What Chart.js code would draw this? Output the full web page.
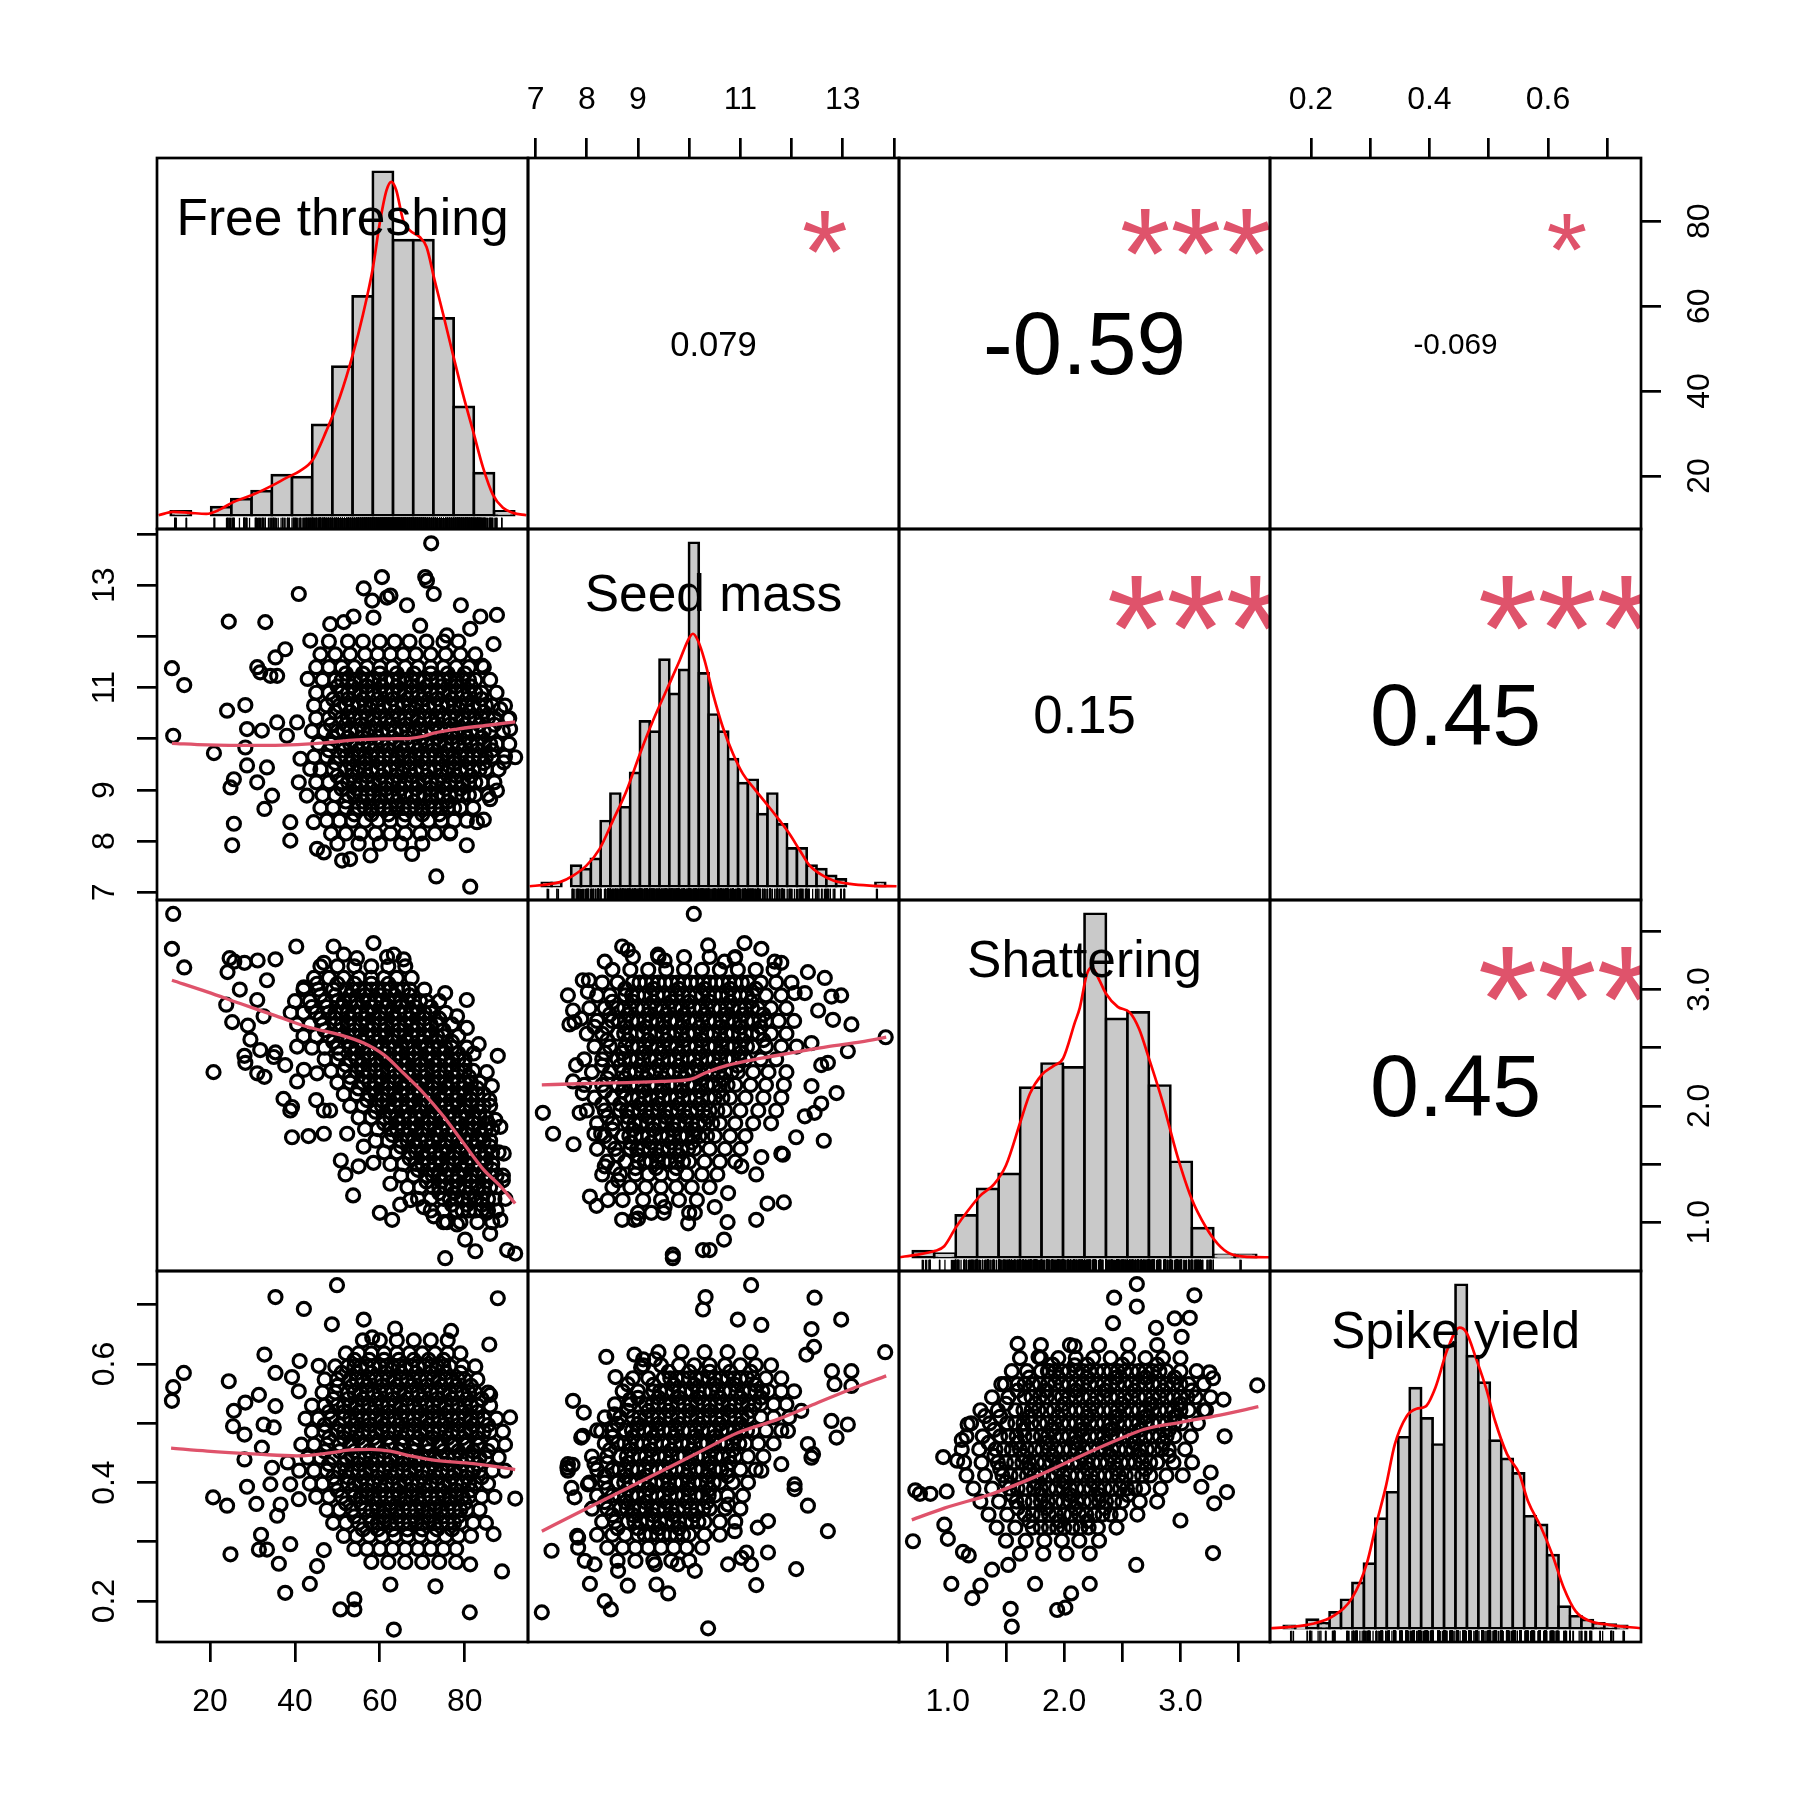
<!DOCTYPE html>
<html>
<head>
<meta charset="utf-8">
<script src="https://cdn.jsdelivr.net/npm/chart.js@4.4.0/dist/chart.umd.min.js"></script>
<style>
  body { margin: 0; background: #fff; }
  #wrap { position: relative; width: 1800px; height: 1800px; background: #fff; overflow: hidden; }
  #wrap canvas { position: absolute; }
</style>
</head>
<body>
<div id="wrap"></div>
<script>
// ---------- variables ----------
const varNames = ['Free threshing', 'Seed mass', 'Shattering', 'Spike yield'];
const axisMin = [7.48, 6.85, 0.58, 0.131];
const axisMax = [94.92, 14.1, 3.77, 0.757];

// outer axis ticks
const freeTicks = [20, 40, 60, 80];
const freeTickLabels = ['20', '40', '60', '80'];
const seedTicks = [7, 8, 9, 10, 11, 12, 13, 14];
const seedTickLabels = ['7', '8', '9', '', '11', '', '13', ''];
const shatTicks = [1.0, 1.5, 2.0, 2.5, 3.0, 3.5];
const shatTickLabels = ['1.0', '', '2.0', '', '3.0', ''];
const spikeTicks = [0.2, 0.3, 0.4, 0.5, 0.6, 0.7];
const spikeTickLabels = ['0.2', '', '0.4', '', '0.6', ''];

// ---------- histograms (bin left edges + bar heights) ----------
const freeBins = [10, 15, 20, 25, 30, 35, 40, 45, 50, 55, 60, 65, 70, 75, 80, 85, 90];
const freeBinWidth = 5;
const freeCounts = [2, 0, 4, 8, 12, 20, 19, 45, 74, 109, 171, 137, 137, 98, 54, 21, 2];

const seedBins = [7.0, 7.2, 7.4, 7.6, 7.8, 8.0, 8.2, 8.4, 8.6, 8.8, 9.0, 9.2, 9.4, 9.6, 9.8, 10.0, 10.2, 10.4, 10.6, 10.8, 11.0, 11.2, 11.4, 11.6, 11.8, 12.0, 12.2, 12.4, 12.6, 12.8, 13.0, 13.2, 13.4, 13.6, 13.8];
const seedBinWidth = 0.2;
const seedCounts = [1, 1, 0, 6, 5, 8, 19, 27, 23, 33, 48, 45, 66, 56, 63, 100, 62, 50, 45, 37, 30, 31, 21, 27, 18, 11, 11, 6, 5, 3, 2, 0, 0, 0, 1];

const shatBins = [0.6, 0.8, 1.0, 1.2, 1.4, 1.6, 1.8, 2.0, 2.2, 2.4, 2.6, 2.8, 3.0, 3.2, 3.4, 3.6];
const shatBinWidth = 0.2;
const shatCounts = [1.8, 1.1, 12.2, 19.9, 24.3, 49.4, 56.4, 55.3, 100, 69.4, 71.3, 50, 27.8, 8.5, 0.7, 0.7];

const spikeBins = [0.14, 0.16, 0.18, 0.20, 0.22, 0.24, 0.26, 0.28, 0.30, 0.32, 0.34, 0.36, 0.38, 0.40, 0.42, 0.44, 0.46, 0.48, 0.50, 0.52, 0.54, 0.56, 0.58, 0.60, 0.62, 0.64, 0.66, 0.68, 0.70, 0.72];
const spikeBinWidth = 0.02;
const spikeCounts = [0.7, 0.4, 2.5, 1.4, 4.6, 8.3, 13.2, 18.8, 31.9, 39.6, 55.6, 69.9, 61.1, 53.5, 82.2, 100, 79.2, 71.5, 54.6, 49.3, 45.1, 32.6, 30.1, 21.3, 6.3, 3.5, 2.4, 1.4, 1.1, 0.7];

// density curves
const freeDensX = [7.0, 10.6, 14.7, 18.8, 22.1, 25.4, 30.4, 35.3, 38.6, 41.9, 45.2, 48.5, 51.8, 55.1, 57.6, 60.05, 61.7, 63.4, 64.6, 65.8, 67.5, 69.1, 71.6, 73.3, 75.3, 77.4, 79.8, 82.3, 84.8, 87.3, 89.7, 92.2, 94.7, 98.0];
const freeDensY = [0, 1.7, 1.2, 0.7, 2.8, 6.5, 10.3, 15.0, 18.6, 22.0, 27.8, 42.0, 58.6, 80.3, 100.2, 123.5, 145.2, 161.8, 166.0, 161.8, 146.9, 141.9, 138.5, 133.5, 116.9, 100.2, 80.3, 60.3, 42.0, 23.6, 10.3, 3.7, 1.2, 0];
const seedDensX = [6.755, 7.09, 7.37, 7.64, 7.91, 8.18, 8.45, 8.73, 9.0, 9.27, 9.54, 9.81, 9.98, 10.08, 10.18, 10.32, 10.49, 10.69, 10.9, 11.1, 11.31, 11.58, 11.85, 12.05, 12.26, 12.46, 12.67, 12.94, 13.28, 13.68, 14.23];
const seedDensY = [0, 0.5, 1.2, 3.1, 6.0, 10.9, 19.1, 27.9, 38.5, 48.3, 57.0, 65.7, 71.6, 73.5, 71.6, 65.7, 56.0, 46.3, 38.5, 32.7, 28.8, 24.0, 19.1, 15.2, 10.4, 6.0, 3.6, 1.7, 0.7, 0.2, 0];
const shatDensX = [0.472, 0.627, 0.804, 0.893, 1.004, 1.115, 1.225, 1.358, 1.469, 1.602, 1.691, 1.801, 1.912, 2.001, 2.112, 2.156, 2.222, 2.267, 2.333, 2.399, 2.51, 2.621, 2.71, 2.798, 2.931, 3.064, 3.197, 3.33, 3.441, 3.552, 3.729, 3.928];
const shatDensY = [0, 0.7, 1.8, 3.2, 8.8, 13.6, 17.8, 21.3, 26.8, 39.3, 47.6, 53.1, 55.7, 57.9, 68.5, 72.6, 82.4, 84.4, 81.0, 76.8, 72.9, 71.3, 66.4, 58.1, 44.9, 29.6, 17.1, 8.8, 3.9, 1.1, 0.1, 0];
const spikeDensX = [0.116, 0.152, 0.193, 0.226, 0.26, 0.285, 0.301, 0.318, 0.334, 0.355, 0.372, 0.388, 0.405, 0.426, 0.447, 0.459, 0.476, 0.493, 0.509, 0.53, 0.551, 0.567, 0.588, 0.609, 0.629, 0.65, 0.675, 0.708, 0.764];
const spikeDensY = [0, 0.4, 1.4, 3.5, 9.0, 18.8, 29.9, 41.0, 53.5, 61.8, 63.9, 64.6, 70.1, 81.2, 87.5, 86.1, 78.5, 70.1, 60.4, 50.7, 45.1, 36.8, 29.9, 21.5, 11.8, 4.9, 2.1, 1.0, 0];

// ---------- correlations ----------
const corrCells = [[0, 1], [0, 2], [0, 3], [1, 2], [1, 3], [2, 3]];
const corrValues = [0.079, -0.59, -0.069, 0.15, 0.45, 0.45];
const corrLabels = ['0.079', '-0.59', '-0.069', '0.15', '0.45', '0.45'];
const corrStars = ['*', '***', '*', '***', '***', '***'];

// ---------- smooth lines ----------
const freeSeedSmoothX = [11.0, 19.3, 31.1, 38.9, 46.8, 54.6, 62.5, 67.2, 70.3, 72.7, 78.2, 86.0, 91.9];
const freeSeedSmoothY = [9.91, 9.88, 9.87, 9.88, 9.92, 9.98, 10.0, 10.01, 10.05, 10.11, 10.19, 10.27, 10.33];
const freeShatSmoothX = [11.0, 19.3, 27.1, 35.0, 42.8, 50.7, 56.2, 60.9, 65.6, 70.3, 75.0, 79.7, 84.5, 88.4, 91.9];
const freeShatSmoothY = [3.08, 2.98, 2.88, 2.78, 2.68, 2.61, 2.54, 2.44, 2.28, 2.11, 1.91, 1.68, 1.45, 1.31, 1.16];
const seedShatSmoothX = [7.12, 7.83, 8.8, 9.46, 10.04, 10.3, 10.76, 11.41, 12.06, 12.71, 13.36, 13.85];
const seedShatSmoothY = [2.18, 2.19, 2.2, 2.21, 2.23, 2.28, 2.35, 2.41, 2.46, 2.51, 2.55, 2.59];
const freeSpikeSmoothX = [10.8, 19.3, 31.1, 40.5, 48.3, 53.0, 57.8, 62.5, 67.2, 72.7, 82.1, 91.9];
const freeSpikeSmoothY = [0.458, 0.453, 0.448, 0.445, 0.45, 0.455, 0.456, 0.453, 0.445, 0.438, 0.432, 0.422];
const seedSpikeSmoothX = [7.12, 7.83, 8.8, 9.59, 10.3, 10.95, 11.74, 12.52, 13.23, 13.85];
const seedSpikeSmoothY = [0.318, 0.349, 0.391, 0.425, 0.456, 0.484, 0.507, 0.535, 0.56, 0.58];
const shatSpikeSmoothX = [0.69, 0.97, 1.38, 1.79, 2.2, 2.48, 2.69, 3.01, 3.34, 3.67];
const shatSpikeSmoothY = [0.337, 0.357, 0.381, 0.413, 0.45, 0.474, 0.49, 0.502, 0.514, 0.528];

// ---------- scatter points: single points [x, y] and dense rows [y, x1, x2, ...] ----------
const seedVsFree = [[72.1,13.82],[60.5,13.16],[70.7,13.16],[71.1,13.09],[40.9,12.83],[56.2,12.94],[24.4,12.29],[33.0,12.28],[58.5,12.37],[62.5,12.8],[66.4,12.61],[79.1,12.61],[83.7,12.39],[87.6,12.42],[11.0,11.38],[13.9,11.05],[11.3,10.06],[20.9,9.72],[24.0,10.55],[28.3,10.66],[31.8,11.3],[35.8,11.23],[35.4,11.59],[37.7,11.75],[43.0,11.17],[43.6,11.92],[25.6,9.21],[24.8,9.05],[28.7,9.48],[31.1,9.15],[34.6,8.89],[32.8,8.63],[25.6,8.34],[25.2,7.92],[38.9,8.01],[38.9,8.37],[46.8,7.78],[51.1,7.62],[57.8,7.72],[67.6,7.75],[73.3,7.31],[81.3,7.11],[80.5,7.92],[84.5,8.42],[87.6,8.99],[91.9,9.64],[90.3,10.39],[86.8,11.85],[84.1,11.43],[28.7,10.19],[32.2,10.16],[28.3,9.83],[33.4,9.44],[35.8,10.32],[40.5,10.32],[38.1,10.06],[41.3,9.61],[40.9,9.15],[48.3,12.24],[51.5,12.28],[53.8,12.39],[58.2,12.7],[61.7,12.76],[72.7,12.83],[69.5,12.21],[75.8,12.02],[81.3,12.15],[88.4,10.58],[90.7,10.19],[89.2,9.54],[86.0,8.82],[82.9,8.37],[76.6,8.17],[45.2,7.85],[53.0,7.65],[44.4,8.37],[42.8,8.89],[43.6,9.41],[31.1,11.4],[34.2,11.23]];
const seedVsFreeRows = [
  [11.9, 48, 52.5, 56, 60, 63.5, 67, 71, 75, 78.5],
  [11.65, 46, 49.5, 53, 56.5, 59.5, 62.5, 65.5, 68.5, 72, 75.5, 79, 82.5],
  [11.4, 45, 48, 51, 54, 57, 60, 63, 66, 69, 72, 75, 78, 81, 84.5],
  [11.15, 46.5, 49.5, 52.5, 55.5, 58.5, 61.5, 64.5, 67.5, 70.5, 73.5, 76.5, 79.5, 82.5, 86],
  [10.9, 45, 48, 51, 54, 57, 60, 63, 66, 69, 72, 75, 78, 81, 84, 87.5],
  [10.65, 44.5, 47.5, 50.5, 53.5, 56.5, 59.5, 62.5, 65.5, 68.5, 71.5, 74.5, 77.5, 80.5, 83.5, 86.5, 89.5],
  [10.4, 45, 48, 51, 54, 57, 60, 63, 66, 69, 72, 75, 78, 81, 84, 87, 90.5],
  [10.15, 44, 47, 50, 53, 56, 59, 62, 65, 68, 71, 74, 77, 80, 83, 86, 89],
  [9.9, 45.5, 48.5, 51.5, 54.5, 57.5, 60.5, 63.5, 66.5, 69.5, 72.5, 75.5, 78.5, 81.5, 84.5, 87.5, 90.5],
  [9.65, 44.5, 47.5, 50.5, 53.5, 56.5, 59.5, 62.5, 65.5, 68.5, 71.5, 74.5, 77.5, 80.5, 83.5, 86.5, 89.5],
  [9.4, 46, 49, 52, 55, 58, 61, 64, 67, 70, 73, 76, 79, 82, 85, 88],
  [9.15, 45, 48, 51, 54, 57, 60, 63, 66, 69, 72, 75, 78, 81, 84, 87],
  [8.9, 46.5, 49.5, 52.5, 55.5, 58.5, 61.5, 64.5, 67.5, 70.5, 73.5, 76.5, 79.5, 82.5, 85.5],
  [8.65, 46, 49, 52, 55, 58, 61, 64, 67, 70, 73, 76, 79, 82],
  [8.4, 47.5, 50.5, 53.5, 56.5, 59.5, 62.5, 65.5, 68.5, 71.5, 74.5, 77.5, 80.5],
  [8.15, 48.5, 52, 55.5, 59, 62.5, 66, 69.5, 73, 76.5],
  [7.95, 50, 55, 60, 65, 70]
];
const seedVsFreeFill = [
  [11.275, 52, 56, 60, 64, 68, 72, 76, 80],
  [11.025, 50, 53.5, 57, 60.5, 64, 67.5, 71, 74.5, 78, 81.5],
  [10.775, 49, 52.5, 56, 59.5, 63, 66.5, 70, 73.5, 77, 80.5, 84],
  [10.525, 49.5, 53, 56.5, 60, 63.5, 67, 70.5, 74, 77.5, 81, 84.5],
  [10.275, 48.5, 52, 55.5, 59, 62.5, 66, 69.5, 73, 76.5, 80, 83.5, 87],
  [10.025, 49, 52.5, 56, 59.5, 63, 66.5, 70, 73.5, 77, 80.5, 84],
  [9.775, 48, 51.5, 55, 58.5, 62, 65.5, 69, 72.5, 76, 79.5, 83, 86.5],
  [9.525, 49.5, 53, 56.5, 60, 63.5, 67, 70.5, 74, 77.5, 81, 84.5],
  [9.275, 50, 53.5, 57, 60.5, 64, 67.5, 71, 74.5, 78, 81.5],
  [9.025, 51, 54.5, 58, 61.5, 65, 68.5, 72, 75.5, 79],
  [8.775, 52, 56, 60, 64, 68, 72, 76],
  [8.525, 54, 58, 62, 66, 70, 74]
];
const seedVsFreeFill2 = [
  [11.15, 51, 54, 57, 60, 63, 66, 69, 72, 75, 78, 81],
  [10.9, 52.5, 55.5, 58.5, 61.5, 64.5, 67.5, 70.5, 73.5, 76.5, 79.5, 82.5],
  [10.65, 52, 55, 58, 61, 64, 67, 70, 73, 76, 79, 82, 85],
  [10.4, 52.5, 55.5, 58.5, 61.5, 64.5, 67.5, 70.5, 73.5, 76.5, 79.5, 82.5, 85.5],
  [10.15, 51.5, 54.5, 57.5, 60.5, 63.5, 66.5, 69.5, 72.5, 75.5, 78.5, 81.5, 84.5],
  [9.9, 53, 56, 59, 62, 65, 68, 71, 74, 77, 80, 83, 86],
  [9.65, 52, 55, 58, 61, 64, 67, 70, 73, 76, 79, 82, 85],
  [9.4, 53.5, 56.5, 59.5, 62.5, 65.5, 68.5, 71.5, 74.5, 77.5, 80.5, 83.5],
  [9.15, 52.5, 55.5, 58.5, 61.5, 64.5, 67.5, 70.5, 73.5, 76.5, 79.5, 82.5],
  [8.9, 54, 57, 60, 63, 66, 69, 72, 75, 78, 81],
  [8.65, 56.5, 59.5, 62.5, 65.5, 68.5, 71.5, 74.5, 77.5]
];

const shatVsFree = [[11.3,3.65],[11.0,3.35],[13.9,3.19],[20.8,2.29],[24.6,3.27],[25.7,3.24],[28.1,3.23],[31.2,3.25],[35.4,3.26],[40.3,3.37],[49.1,3.37],[58.5,3.4],[24.1,3.15],[23.8,2.87],[25.2,2.72],[27.0,3.0],[28.9,2.69],[28.1,2.43],[28.3,2.37],[31.1,2.28],[32.8,2.25],[35.4,2.46],[37.7,2.35],[37.3,2.06],[39.3,1.99],[38.9,1.96],[39.3,1.73],[43.2,1.74],[45.0,2.05],[46.8,1.76],[48.3,1.96],[50.8,1.53],[51.9,1.41],[55.0,1.48],[53.7,1.23],[60.0,1.08],[62.9,1.02],[64.8,1.15],[75.4,0.69],[80.1,0.85],[82.5,0.75],[90.0,0.76],[91.9,0.73],[85.2,2.29],[87.8,2.43],[83.3,2.53],[80.5,2.67],[75.4,2.97],[65.6,3.26],[63.3,3.3],[85.8,2.05],[87.2,1.88],[89.0,1.36],[89.6,1.2],[75.8,1.0],[78.2,0.98],[45.2,3.05],[46.8,3.23],[51.5,3.3],[54.6,3.27],[61.7,3.28],[42.1,3.02],[33.4,3.08],[31.1,2.91],[32.6,2.77],[29.5,2.57],[31.8,2.48],[35.0,2.42],[40.5,2.51],[42.1,2.31],[40.5,2.21],[45.2,2.28],[46.8,1.96],[52.3,1.76],[56.2,1.65],[58.5,1.51],[62.5,1.33],[67.2,1.19],[70.3,1.13],[72.7,1.05],[85.2,1.08],[88.4,1.02],[86.0,0.9],[80.5,2.91],[78.2,2.77],[82.1,2.45],[86.4,2.17],[88.4,1.82],[89.2,1.59]];
const shatVsFreeRows = [
  [3.2, 46, 50, 54, 58, 62, 66],
  [3.1, 44.5, 48, 51.5, 55, 58, 61, 64, 67.5],
  [3.0, 42, 45.5, 49, 52, 55, 58, 61, 64, 67, 70.5],
  [2.9, 40, 43.5, 47, 50, 53, 56, 59, 62, 65, 68, 71, 74],
  [2.8, 39, 42, 45, 48, 51, 54, 57, 60, 63, 66, 69, 72, 75.5],
  [2.7, 40.5, 43.5, 46.5, 49.5, 52.5, 55.5, 58.5, 61.5, 64.5, 67.5, 70.5, 73.5, 77],
  [2.6, 42, 45, 48, 51, 54, 57, 60, 63, 66, 69, 72, 75, 78.5],
  [2.5, 44, 47, 50, 53, 56, 59, 62, 65, 68, 71, 74, 77, 80.5],
  [2.4, 47, 50, 53, 56, 59, 62, 65, 68, 71, 74, 77, 80],
  [2.3, 48.5, 51.5, 54.5, 57.5, 60.5, 63.5, 66.5, 69.5, 72.5, 75.5, 78.5, 82],
  [2.2, 50, 53, 56, 59, 62, 65, 68, 71, 74, 77, 80, 83.5],
  [2.1, 51.5, 54.5, 57.5, 60.5, 63.5, 66.5, 69.5, 72.5, 75.5, 78.5, 81.5, 84.5],
  [2.0, 53, 56, 59, 62, 65, 68, 71, 74, 77, 80, 83, 86],
  [1.9, 55, 58, 61, 64, 67, 70, 73, 76, 79, 82, 85],
  [1.8, 56.5, 59.5, 62.5, 65.5, 68.5, 71.5, 74.5, 77.5, 80.5, 83.5, 86.5],
  [1.7, 59, 62, 65, 68, 71, 74, 77, 80, 83, 86],
  [1.6, 61, 64, 67, 70, 73, 76, 79, 82, 85, 88],
  [1.5, 62.5, 65.5, 68.5, 71.5, 74.5, 77.5, 80.5, 83.5, 86.5],
  [1.4, 65, 68, 71, 74, 77, 80, 83, 86, 89],
  [1.3, 66.5, 69.5, 72.5, 75.5, 78.5, 81.5, 84.5, 87.5],
  [1.2, 69, 72, 75, 78, 81, 84, 87],
  [1.1, 72, 75, 78, 81, 84, 87.5],
  [1.0, 75, 79, 83, 86.5]
];
const shatVsFreeFill = [
  [3.05, 50, 54, 58, 62],
  [2.95, 46, 49.5, 53, 56.5, 60, 63.5, 67],
  [2.85, 44, 47.5, 51, 54.5, 58, 61.5, 65, 68.5, 72],
  [2.75, 46, 49.5, 53, 56.5, 60, 63.5, 67, 70.5, 74],
  [2.65, 47, 50.5, 54, 57.5, 61, 64.5, 68, 71.5, 75],
  [2.55, 49, 52.5, 56, 59.5, 63, 66.5, 70, 73.5, 77],
  [2.45, 50.5, 54, 57.5, 61, 64.5, 68, 71.5, 75, 78.5],
  [2.35, 52, 55.5, 59, 62.5, 66, 69.5, 73, 76.5, 80],
  [2.25, 53, 56.5, 60, 63.5, 67, 70.5, 74, 77.5, 81],
  [2.15, 55, 58.5, 62, 65.5, 69, 72.5, 76, 79.5, 83],
  [2.05, 57, 60.5, 64, 67.5, 71, 74.5, 78, 81.5],
  [1.95, 59, 62.5, 66, 69.5, 73, 76.5, 80, 83.5],
  [1.85, 61, 64.5, 68, 71.5, 75, 78.5, 82, 85.5],
  [1.75, 63, 66.5, 70, 73.5, 77, 80.5, 84],
  [1.65, 65, 68.5, 72, 75.5, 79, 82.5, 86],
  [1.55, 67, 70.5, 74, 77.5, 81, 84.5],
  [1.45, 69, 72.5, 76, 79.5, 83, 86.5],
  [1.35, 71, 74.5, 78, 81.5, 85],
  [1.25, 74, 77.5, 81, 84.5],
  [1.15, 77, 80.5, 84]
];
const shatVsFreeFill2 = [
  [3.0, 53.5, 56.5, 59.5, 62.5, 65.5],
  [2.9, 51.5, 54.5, 57.5, 60.5, 63.5, 66.5, 69.5],
  [2.8, 49.5, 52.5, 55.5, 58.5, 61.5, 64.5, 67.5, 70.5],
  [2.7, 51, 54, 57, 60, 63, 66, 69, 72],
  [2.6, 52.5, 55.5, 58.5, 61.5, 64.5, 67.5, 70.5, 73.5],
  [2.5, 54.5, 57.5, 60.5, 63.5, 66.5, 69.5, 72.5, 75.5],
  [2.4, 54.5, 57.5, 60.5, 63.5, 66.5, 69.5, 72.5, 75.5, 78.5],
  [2.3, 56, 59, 62, 65, 68, 71, 74, 77, 80],
  [2.2, 57.5, 60.5, 63.5, 66.5, 69.5, 72.5, 75.5, 78.5, 81.5],
  [2.1, 59, 62, 65, 68, 71, 74, 77, 80, 83],
  [2.0, 60.5, 63.5, 66.5, 69.5, 72.5, 75.5, 78.5, 81.5, 84.5],
  [1.9, 62.5, 65.5, 68.5, 71.5, 74.5, 77.5, 80.5, 83.5],
  [1.8, 64, 67, 70, 73, 76, 79, 82, 85],
  [1.7, 66.5, 69.5, 72.5, 75.5, 78.5, 81.5, 84.5],
  [1.6, 68.5, 71.5, 74.5, 77.5, 80.5, 83.5, 86.5],
  [1.5, 70, 73, 76, 79, 82, 85],
  [1.4, 72.5, 75.5, 78.5, 81.5, 84.5, 87.5],
  [1.3, 74, 77, 80, 83, 86],
  [1.2, 76.5, 79.5, 82.5, 85.5],
  [1.1, 79.5, 82.5, 85.5]
];

const shatVsSeed = [[10.09,3.65],[8.69,3.37],[8.35,3.24],[10.37,3.38],[11.08,3.4],[11.41,3.35],[12.32,3.15],[12.65,3.1],[8.04,3.08],[7.63,2.95],[7.73,2.82],[7.66,2.7],[12.78,2.94],[12.97,2.95],[12.81,2.74],[13.17,2.7],[13.84,2.59],[13.1,2.47],[12.71,2.37],[12.88,2.11],[12.58,2.02],[12.63,1.7],[12.09,1.73],[7.14,1.94],[7.34,1.76],[7.74,1.67],[7.79,2.35],[8.06,1.22],[8.19,1.14],[11.31,1.02],[11.53,1.16],[11.85,1.17],[10.75,1.0],[10.68,0.85],[10.27,0.76],[10.4,0.76],[9.68,0.72],[9.68,0.69],[11.31,1.41],[11.83,1.58],[8.69,1.02],[9.0,1.03],[7.86,1.94],[8.15,1.76],[8.8,3.34],[9.39,3.3],[9.52,3.25],[10.69,3.24],[10.89,3.27],[11.67,3.24],[11.8,3.23],[7.92,3.08],[8.02,2.98],[7.89,2.75],[7.76,2.72],[8.15,2.68],[7.73,2.21],[7.92,2.11],[8.28,1.76],[8.35,1.48],[8.61,1.36],[8.41,1.19],[8.93,1.02],[9.26,1.08],[9.52,1.13],[9.98,0.99],[10.11,1.08],[10.5,1.13],[10.76,1.25],[11.02,1.48],[11.41,1.56],[11.8,1.59],[12.26,1.91],[12.45,1.94],[12.39,2.17],[12.58,2.35],[12.39,2.54],[12.52,2.82],[12.26,2.97],[12.06,2.97]];
const shatVsSeedRows = [
  [3.28, 8.9, 9.4, 9.9, 10.4, 10.9],
  [3.17, 8.5, 8.85, 9.2, 9.55, 9.9, 10.25, 10.6, 10.95, 11.3, 11.65],
  [3.06, 8.3, 8.6, 8.9, 9.15, 9.4, 9.65, 9.9, 10.15, 10.4, 10.65, 10.9, 11.15, 11.4, 11.7, 12.0],
  [2.95, 8.2, 8.45, 8.75, 9.0, 9.25, 9.5, 9.75, 10.0, 10.25, 10.5, 10.75, 11.0, 11.25, 11.5, 11.8],
  [2.84, 8.05, 8.35, 8.6, 8.85, 9.1, 9.35, 9.6, 9.85, 10.1, 10.35, 10.6, 10.85, 11.1, 11.35, 11.6, 11.9],
  [2.73, 8.2, 8.5, 8.75, 9.0, 9.25, 9.5, 9.75, 10.0, 10.25, 10.5, 10.75, 11.0, 11.25, 11.5, 11.75, 12.05],
  [2.62, 8.0, 8.3, 8.6, 8.85, 9.1, 9.35, 9.6, 9.85, 10.1, 10.35, 10.6, 10.85, 11.1, 11.35, 11.6, 11.9],
  [2.51, 8.15, 8.45, 8.75, 9.0, 9.25, 9.5, 9.75, 10.0, 10.25, 10.5, 10.75, 11.0, 11.25, 11.5, 11.8, 12.1],
  [2.40, 7.95, 8.3, 8.6, 8.85, 9.1, 9.35, 9.6, 9.85, 10.1, 10.35, 10.6, 10.85, 11.1, 11.4, 11.7],
  [2.29, 8.1, 8.45, 8.7, 8.95, 9.2, 9.45, 9.7, 9.95, 10.2, 10.45, 10.7, 10.95, 11.25, 11.55, 11.9],
  [2.18, 7.95, 8.3, 8.6, 8.85, 9.1, 9.35, 9.6, 9.85, 10.1, 10.35, 10.6, 10.9, 11.2, 11.5, 11.85],
  [2.07, 8.15, 8.5, 8.75, 9.0, 9.25, 9.5, 9.75, 10.0, 10.25, 10.5, 10.8, 11.1, 11.45, 11.8],
  [1.96, 8.0, 8.35, 8.65, 8.9, 9.15, 9.4, 9.65, 9.9, 10.15, 10.4, 10.7, 11.0, 11.35, 11.7],
  [1.85, 8.2, 8.5, 8.8, 9.05, 9.3, 9.55, 9.8, 10.05, 10.3, 10.6, 10.9, 11.25, 11.6],
  [1.74, 8.35, 8.7, 8.95, 9.2, 9.45, 9.7, 9.95, 10.2, 10.5, 10.8, 11.1],
  [1.63, 8.2, 8.55, 8.85, 9.1, 9.35, 9.6, 9.85, 10.1, 10.4, 10.7, 11.0],
  [1.52, 8.4, 8.75, 9.0, 9.25, 9.5, 9.75, 10.0, 10.3, 10.6, 10.9],
  [1.41, 8.3, 8.65, 8.95, 9.2, 9.45, 9.7, 9.95, 10.25, 10.55],
  [1.30, 8.5, 8.85, 9.15, 9.45, 9.75, 10.05, 10.4],
  [1.19, 8.7, 9.1, 9.45, 9.8, 10.15],
  [1.08, 9.0, 9.5, 10.0]
];
const shatVsSeedFill = [
  [3.005, 8.75, 9.3, 9.8, 10.3, 10.8, 11.3],
  [2.895, 8.5, 8.9, 9.3, 9.65, 10.0, 10.4, 10.8, 11.2],
  [2.785, 8.45, 8.8, 9.2, 9.55, 9.9, 10.3, 10.7, 11.05, 11.45],
  [2.675, 8.4, 8.75, 9.15, 9.5, 9.85, 10.2, 10.6, 11.0, 11.4],
  [2.565, 8.4, 8.8, 9.2, 9.55, 9.9, 10.25, 10.65, 11.05, 11.45],
  [2.455, 8.35, 8.7, 9.1, 9.45, 9.8, 10.2, 10.6, 11.0],
  [2.345, 8.3, 8.65, 9.05, 9.4, 9.8, 10.15, 10.55, 10.95],
  [2.235, 8.4, 8.75, 9.15, 9.5, 9.9, 10.25, 10.65],
  [2.125, 8.35, 8.7, 9.1, 9.45, 9.85, 10.2, 10.6],
  [2.015, 8.3, 8.65, 9.05, 9.4, 9.8, 10.2],
  [1.905, 8.4, 8.8, 9.2, 9.55, 9.95, 10.35],
  [1.795, 8.5, 8.9, 9.3, 9.7, 10.1],
  [1.685, 8.45, 8.85, 9.25, 9.65, 10.05],
  [1.575, 8.6, 9.0, 9.4, 9.8],
  [1.465, 8.55, 8.95, 9.35, 9.75]
];
const shatVsSeedFill2 = [
  [3.06, 9.03, 9.28, 9.53, 9.78, 10.03, 10.28, 10.53, 10.78, 11.03],
  [2.95, 8.88, 9.13, 9.38, 9.63, 9.88, 10.13, 10.38, 10.63, 10.88, 11.13],
  [2.84, 8.73, 8.98, 9.23, 9.48, 9.73, 9.98, 10.23, 10.48, 10.73, 10.98, 11.23],
  [2.73, 8.63, 8.88, 9.13, 9.38, 9.63, 9.88, 10.13, 10.38, 10.63, 10.88, 11.13, 11.38],
  [2.62, 8.73, 8.98, 9.23, 9.48, 9.73, 9.98, 10.23, 10.48, 10.73, 10.98, 11.23],
  [2.51, 8.88, 9.13, 9.38, 9.63, 9.88, 10.13, 10.38, 10.63, 10.88, 11.13],
  [2.40, 8.73, 8.98, 9.23, 9.48, 9.73, 9.98, 10.23, 10.48, 10.73, 10.98],
  [2.29, 8.83, 9.08, 9.33, 9.58, 9.83, 10.08, 10.33, 10.58, 10.83],
  [2.18, 8.73, 8.98, 9.23, 9.48, 9.73, 9.98, 10.23, 10.48, 10.75],
  [2.07, 8.88, 9.13, 9.38, 9.63, 9.88, 10.13, 10.38, 10.65],
  [1.96, 8.78, 9.03, 9.28, 9.53, 9.78, 10.03, 10.28, 10.55],
  [1.85, 8.93, 9.18, 9.43, 9.68, 9.93, 10.18, 10.45],
  [1.74, 8.83, 9.08, 9.33, 9.58, 9.83, 10.08, 10.35],
  [1.63, 8.98, 9.23, 9.48, 9.73, 9.98],
  [1.52, 9.13, 9.38, 9.63, 9.88]
];

const spikeVsFree = [[49.9,0.733],[35.4,0.713],[42.1,0.693],[48.7,0.667],[56.2,0.675],[87.8,0.711],[76.8,0.656],[85.8,0.633],[63.6,0.66],[58.2,0.645],[32.8,0.616],[41.1,0.605],[45.6,0.597],[13.8,0.585],[11.3,0.561],[11.0,0.538],[24.4,0.571],[35.4,0.585],[39.3,0.578],[40.9,0.554],[35.4,0.529],[28.3,0.535],[25.6,0.521],[25.4,0.495],[28.1,0.481],[31.5,0.548],[32.6,0.498],[35.0,0.493],[32.2,0.459],[28.1,0.439],[34.6,0.425],[38.3,0.434],[28.7,0.393],[34.2,0.397],[20.7,0.375],[24.0,0.361],[30.9,0.364],[36.6,0.363],[38.9,0.397],[35.8,0.344],[40.9,0.372],[32.0,0.312],[31.5,0.287],[33.4,0.287],[24.8,0.279],[36.2,0.263],[38.9,0.296],[43.5,0.229],[37.7,0.214],[50.7,0.186],[54.0,0.203],[54.0,0.186],[63.3,0.152],[45.2,0.259],[46.8,0.286],[88.8,0.25],[81.2,0.181],[73.1,0.225],[91.9,0.373],[90.7,0.51],[86.0,0.548],[86.8,0.313],[81.3,0.262],[62.5,0.228]];
const spikeVsFreeRows = [
  [0.640, 56, 60, 64, 68, 72, 76],
  [0.618, 52, 55, 58, 61, 64, 67, 70, 73, 76, 79],
  [0.596, 49.5, 52.5, 55.5, 58.5, 61.5, 64.5, 67.5, 70.5, 73.5, 76.5, 79.5, 82.5],
  [0.574, 47, 50, 53, 56, 59, 62, 65, 68, 71, 74, 77, 80, 83],
  [0.552, 46.5, 49.5, 52.5, 55.5, 58.5, 61.5, 64.5, 67.5, 70.5, 73.5, 76.5, 79.5, 82.5, 85.5],
  [0.530, 44, 47, 50, 53, 56, 59, 62, 65, 68, 71, 74, 77, 80, 83, 86],
  [0.508, 42.5, 45.5, 48.5, 51.5, 54.5, 57.5, 60.5, 63.5, 66.5, 69.5, 72.5, 75.5, 78.5, 81.5, 84.5, 87.5],
  [0.486, 44, 47, 50, 53, 56, 59, 62, 65, 68, 71, 74, 77, 80, 83, 86, 89],
  [0.464, 41.5, 44.5, 47.5, 50.5, 53.5, 56.5, 59.5, 62.5, 65.5, 68.5, 71.5, 74.5, 77.5, 80.5, 83.5, 86.5, 89.5],
  [0.442, 43, 46, 49, 52, 55, 58, 61, 64, 67, 70, 73, 76, 79, 82, 85, 88],
  [0.420, 41, 44.5, 47.5, 50.5, 53.5, 56.5, 59.5, 62.5, 65.5, 68.5, 71.5, 74.5, 77.5, 80.5, 83.5, 86.5, 89.5],
  [0.398, 43.5, 46.5, 49.5, 52.5, 55.5, 58.5, 61.5, 64.5, 67.5, 70.5, 73.5, 76.5, 79.5, 82.5, 85.5],
  [0.376, 45, 48, 51, 54, 57, 60, 63, 66, 69, 72, 75, 78, 81, 84, 87],
  [0.354, 47.5, 50.5, 53.5, 56.5, 59.5, 62.5, 65.5, 68.5, 71.5, 74.5, 77.5, 80.5, 83.5],
  [0.332, 49, 52, 55, 58, 61, 64, 67, 70, 73, 76, 79, 82, 85],
  [0.310, 51.5, 54.5, 57.5, 60.5, 63.5, 66.5, 69.5, 72.5, 75.5, 78.5, 81.5],
  [0.288, 54, 57, 60, 63, 66, 69, 72, 75, 78],
  [0.266, 58, 62, 66, 70, 74, 78]
];
const spikeVsFreeFill = [
  [0.607, 54, 57.5, 61, 64.5, 68, 71.5, 75],
  [0.585, 51, 54.5, 58, 61.5, 65, 68.5, 72, 75.5, 79],
  [0.563, 50, 53.5, 57, 60.5, 64, 67.5, 71, 74.5, 78, 81.5],
  [0.541, 49, 52.5, 56, 59.5, 63, 66.5, 70, 73.5, 77, 80.5, 84],
  [0.519, 48, 51.5, 55, 58.5, 62, 65.5, 69, 72.5, 76, 79.5, 83],
  [0.497, 47, 50.5, 54, 57.5, 61, 64.5, 68, 71.5, 75, 78.5, 82, 85.5],
  [0.475, 48, 51.5, 55, 58.5, 62, 65.5, 69, 72.5, 76, 79.5, 83],
  [0.453, 47, 50.5, 54, 57.5, 61, 64.5, 68, 71.5, 75, 78.5, 82, 85.5],
  [0.431, 48, 51.5, 55, 58.5, 62, 65.5, 69, 72.5, 76, 79.5, 83],
  [0.409, 49, 52.5, 56, 59.5, 63, 66.5, 70, 73.5, 77, 80.5, 84],
  [0.387, 50, 53.5, 57, 60.5, 64, 67.5, 71, 74.5, 78, 81.5],
  [0.365, 52, 55.5, 59, 62.5, 66, 69.5, 73, 76.5, 80],
  [0.343, 54, 57.5, 61, 64.5, 68, 71.5, 75, 78.5],
  [0.321, 56, 59.5, 63, 66.5, 70, 73.5, 77]
];
const spikeVsFreeFill2 = [
  [0.596, 54, 57, 60, 63, 66, 69, 72, 75],
  [0.574, 54.5, 57.5, 60.5, 63.5, 66.5, 69.5, 72.5, 75.5, 78.5],
  [0.552, 54, 57, 60, 63, 66, 69, 72, 75, 78, 81],
  [0.530, 51.5, 54.5, 57.5, 60.5, 63.5, 66.5, 69.5, 72.5, 75.5, 78.5, 81.5],
  [0.508, 53, 56, 59, 62, 65, 68, 71, 74, 77, 80, 83],
  [0.486, 51.5, 54.5, 57.5, 60.5, 63.5, 66.5, 69.5, 72.5, 75.5, 78.5, 81.5, 84.5],
  [0.464, 53, 56, 59, 62, 65, 68, 71, 74, 77, 80, 83],
  [0.442, 53.5, 56.5, 59.5, 62.5, 65.5, 68.5, 71.5, 74.5, 77.5, 80.5, 83.5],
  [0.420, 52, 55, 58, 61, 64, 67, 70, 73, 76, 79, 82],
  [0.398, 54, 57, 60, 63, 66, 69, 72, 75, 78, 81],
  [0.376, 55.5, 58.5, 61.5, 64.5, 67.5, 70.5, 73.5, 76.5, 79.5],
  [0.354, 58, 61, 64, 67, 70, 73, 76, 79],
  [0.332, 59.5, 62.5, 65.5, 68.5, 71.5, 74.5, 77.5]
];

const spikeVsSeed = [[11.21,0.733],[10.32,0.713],[10.27,0.692],[10.95,0.675],[11.41,0.666],[12.45,0.712],[12.97,0.675],[12.39,0.659],[13.83,0.62],[12.44,0.629],[12.29,0.616],[8.38,0.612],[8.56,0.578],[13.17,0.588],[12.79,0.588],[13.17,0.563],[12.84,0.566],[7.73,0.538],[7.94,0.518],[13.1,0.498],[12.78,0.504],[12.88,0.476],[12.42,0.448],[7.62,0.425],[7.63,0.42],[7.7,0.391],[7.76,0.375],[12.06,0.389],[12.32,0.361],[12.71,0.318],[7.31,0.285],[7.81,0.31],[7.96,0.268],[8.06,0.229],[8.35,0.2],[8.47,0.186],[7.12,0.181],[10.37,0.154],[9.36,0.228],[9.59,0.213],[8.8,0.226],[10.11,0.251],[11.31,0.227],[12.09,0.254],[11.12,0.282],[11.54,0.282],[11.21,0.262],[7.72,0.43],[7.92,0.479],[8.84,0.54],[9.1,0.608],[9.33,0.608],[11.41,0.42],[11.8,0.431],[12.06,0.397],[11.54,0.335],[11.34,0.324],[12.32,0.465],[12.39,0.442],[11.93,0.487],[12.19,0.521],[8.93,0.616],[9.06,0.594],[8.8,0.566],[8.54,0.515],[8.28,0.487],[7.89,0.476],[7.63,0.431],[8.15,0.431],[8.02,0.397],[7.83,0.307],[7.83,0.29],[8.15,0.262],[8.61,0.251],[9.33,0.262],[9.78,0.262],[10.76,0.262],[11.02,0.273],[10.89,0.318],[10.76,0.363]];
const spikeVsSeedRows = [
  [0.620, 9.4, 9.85, 10.3, 10.75, 11.2],
  [0.598, 9.1, 9.45, 9.8, 10.1, 10.4, 10.7, 11.0, 11.3, 11.6],
  [0.576, 8.9, 9.2, 9.5, 9.75, 10.0, 10.25, 10.5, 10.75, 11.0, 11.25, 11.5, 11.8],
  [0.554, 8.7, 9.0, 9.3, 9.55, 9.8, 10.05, 10.3, 10.55, 10.8, 11.05, 11.3, 11.55, 11.8, 12.05],
  [0.532, 8.55, 8.85, 9.15, 9.4, 9.65, 9.9, 10.15, 10.4, 10.65, 10.9, 11.15, 11.4, 11.65, 11.9],
  [0.510, 8.35, 8.65, 8.9, 9.15, 9.4, 9.65, 9.9, 10.15, 10.4, 10.65, 10.9, 11.15, 11.4, 11.65, 11.95],
  [0.488, 8.2, 8.5, 8.75, 9.0, 9.25, 9.5, 9.75, 10.0, 10.25, 10.5, 10.75, 11.0, 11.25, 11.5, 11.8],
  [0.466, 8.35, 8.6, 8.85, 9.1, 9.35, 9.6, 9.85, 10.1, 10.35, 10.6, 10.85, 11.1, 11.35, 11.65],
  [0.444, 8.1, 8.4, 8.65, 8.9, 9.15, 9.4, 9.65, 9.9, 10.15, 10.4, 10.65, 10.9, 11.15, 11.45],
  [0.422, 8.2, 8.5, 8.75, 9.0, 9.25, 9.5, 9.75, 10.0, 10.25, 10.5, 10.75, 11.0, 11.3],
  [0.400, 8.05, 8.35, 8.6, 8.85, 9.1, 9.35, 9.6, 9.85, 10.1, 10.35, 10.6, 10.85, 11.15],
  [0.378, 8.2, 8.5, 8.75, 9.0, 9.25, 9.5, 9.75, 10.0, 10.25, 10.5, 10.75, 11.05],
  [0.356, 8.1, 8.4, 8.65, 8.9, 9.15, 9.4, 9.65, 9.9, 10.15, 10.4, 10.7, 11.0],
  [0.334, 8.3, 8.55, 8.8, 9.05, 9.3, 9.55, 9.8, 10.05, 10.3, 10.6, 10.9],
  [0.312, 8.2, 8.5, 8.75, 9.0, 9.25, 9.5, 9.75, 10.0, 10.3, 10.6],
  [0.290, 8.4, 8.7, 8.95, 9.2, 9.45, 9.7, 9.95, 10.25],
  [0.268, 8.6, 8.95, 9.3, 9.65, 10.0]
];
const spikeVsSeedFill = [
  [0.587, 9.6, 10.0, 10.4, 10.8, 11.2],
  [0.565, 9.3, 9.7, 10.1, 10.5, 10.9, 11.3],
  [0.543, 9.0, 9.4, 9.8, 10.2, 10.6, 11.0, 11.4],
  [0.521, 8.8, 9.2, 9.6, 10.0, 10.4, 10.8, 11.2],
  [0.499, 8.6, 9.0, 9.4, 9.8, 10.2, 10.6, 11.0],
  [0.477, 8.5, 8.9, 9.3, 9.7, 10.1, 10.5, 10.9],
  [0.455, 8.45, 8.85, 9.25, 9.65, 10.05, 10.45, 10.85],
  [0.433, 8.4, 8.8, 9.2, 9.6, 10.0, 10.4, 10.8],
  [0.411, 8.35, 8.75, 9.15, 9.55, 9.95, 10.35, 10.75],
  [0.389, 8.4, 8.8, 9.2, 9.6, 10.0, 10.4],
  [0.367, 8.35, 8.75, 9.15, 9.55, 9.95, 10.35],
  [0.345, 8.5, 8.9, 9.3, 9.7, 10.1],
  [0.323, 8.6, 9.0, 9.4, 9.8]
];
const spikeVsSeedFill2 = [
  [0.576, 9.63, 9.88, 10.13, 10.38, 10.63, 10.88, 11.13],
  [0.554, 9.43, 9.68, 9.93, 10.18, 10.43, 10.68, 10.93, 11.18, 11.43],
  [0.532, 9.28, 9.53, 9.78, 10.03, 10.28, 10.53, 10.78, 11.03, 11.28],
  [0.510, 9.03, 9.28, 9.53, 9.78, 10.03, 10.28, 10.53, 10.78, 11.03],
  [0.488, 8.88, 9.13, 9.38, 9.63, 9.88, 10.13, 10.38, 10.63, 10.88, 11.13],
  [0.466, 8.73, 8.98, 9.23, 9.48, 9.73, 9.98, 10.23, 10.48, 10.73, 10.98],
  [0.444, 8.78, 9.03, 9.28, 9.53, 9.78, 10.03, 10.28, 10.53, 10.78],
  [0.422, 8.63, 8.88, 9.13, 9.38, 9.63, 9.88, 10.13, 10.38, 10.63],
  [0.400, 8.73, 8.98, 9.23, 9.48, 9.73, 9.98, 10.23, 10.48],
  [0.378, 8.63, 8.88, 9.13, 9.38, 9.63, 9.88, 10.13, 10.38],
  [0.356, 8.78, 9.03, 9.28, 9.53, 9.78, 10.03, 10.28],
  [0.334, 8.93, 9.18, 9.43, 9.68, 9.93, 10.18],
  [0.312, 9.13, 9.38, 9.63, 9.88]
];

const spikeVsShat = [[2.625,0.735],[2.43,0.712],[2.625,0.697],[3.12,0.716],[2.42,0.669],[3.08,0.678],[2.95,0.677],[2.79,0.661],[3.01,0.646],[1.6,0.634],[2.09,0.63],[1.78,0.612],[1.87,0.588],[2.09,0.598],[1.49,0.566],[1.66,0.566],[3.25,0.586],[3.28,0.576],[3.66,0.564],[3.37,0.54],[3.22,0.522],[3.38,0.478],[3.26,0.417],[3.4,0.384],[3.29,0.365],[3.18,0.393],[1.17,0.498],[1.32,0.512],[1.12,0.472],[0.96,0.443],[1.08,0.437],[0.72,0.387],[0.76,0.381],[0.85,0.381],[0.99,0.385],[0.7,0.301],[0.97,0.329],[1.0,0.305],[1.13,0.283],[1.18,0.277],[1.03,0.229],[1.28,0.226],[1.21,0.205],[1.38,0.253],[1.52,0.261],[1.54,0.187],[1.55,0.157],[1.94,0.185],[2.01,0.189],[2.06,0.213],[1.75,0.229],[2.22,0.229],[2.62,0.261],[3.0,0.336],[3.28,0.281]];
const spikeVsShatRows = [
  [0.632, 1.8, 2.05, 2.3, 2.55, 2.8],
  [0.610, 1.62, 1.8, 1.95, 2.1, 2.25, 2.4, 2.55, 2.7, 2.85, 3.0],
  [0.588, 1.55, 1.68, 1.8, 1.92, 2.04, 2.16, 2.28, 2.4, 2.52, 2.64, 2.76, 2.88, 3.0, 3.14],
  [0.566, 1.46, 1.6, 1.73, 1.86, 1.98, 2.1, 2.22, 2.34, 2.46, 2.58, 2.7, 2.82, 2.94, 3.07, 3.2],
  [0.544, 1.38, 1.52, 1.66, 1.79, 1.92, 2.04, 2.16, 2.28, 2.4, 2.52, 2.64, 2.76, 2.88, 3.0, 3.13, 3.26],
  [0.522, 1.28, 1.43, 1.58, 1.72, 1.85, 1.98, 2.1, 2.22, 2.34, 2.46, 2.58, 2.7, 2.82, 2.94, 3.07, 3.2],
  [0.500, 1.2, 1.36, 1.51, 1.65, 1.79, 1.92, 2.04, 2.16, 2.28, 2.4, 2.52, 2.64, 2.76, 2.88, 3.01, 3.15],
  [0.478, 1.16, 1.3, 1.45, 1.59, 1.73, 1.86, 1.98, 2.1, 2.22, 2.34, 2.46, 2.58, 2.7, 2.82, 2.95, 3.09],
  [0.456, 1.12, 1.27, 1.41, 1.55, 1.68, 1.81, 1.93, 2.05, 2.17, 2.29, 2.41, 2.53, 2.65, 2.77, 2.9, 3.04],
  [0.434, 1.14, 1.29, 1.43, 1.57, 1.7, 1.83, 1.95, 2.07, 2.19, 2.31, 2.43, 2.55, 2.67, 2.8, 2.94, 3.1],
  [0.412, 1.16, 1.32, 1.47, 1.61, 1.74, 1.87, 1.99, 2.11, 2.23, 2.35, 2.47, 2.6, 2.74, 2.88, 3.02],
  [0.390, 1.22, 1.38, 1.53, 1.67, 1.8, 1.93, 2.05, 2.17, 2.29, 2.41, 2.54, 2.68, 2.83],
  [0.368, 1.28, 1.44, 1.59, 1.73, 1.86, 1.99, 2.11, 2.23, 2.36, 2.5, 2.65, 2.8],
  [0.346, 1.35, 1.51, 1.66, 1.8, 1.93, 2.06, 2.19, 2.33, 2.48, 2.63],
  [0.324, 1.42, 1.58, 1.73, 1.87, 2.0, 2.14, 2.29, 2.45],
  [0.302, 1.5, 1.67, 1.83, 1.98, 2.13, 2.3],
  [0.280, 1.62, 1.82, 2.02, 2.22]
];
const spikeVsShatFill = [
  [0.599, 1.9, 2.2, 2.5, 2.8],
  [0.577, 1.7, 1.95, 2.2, 2.45, 2.7, 2.95],
  [0.555, 1.6, 1.85, 2.1, 2.35, 2.6, 2.85, 3.1],
  [0.533, 1.5, 1.75, 2.0, 2.25, 2.5, 2.75, 3.0],
  [0.511, 1.45, 1.7, 1.95, 2.2, 2.45, 2.7, 2.95],
  [0.489, 1.4, 1.65, 1.9, 2.15, 2.4, 2.65, 2.9],
  [0.467, 1.35, 1.6, 1.85, 2.1, 2.35, 2.6, 2.85],
  [0.445, 1.4, 1.65, 1.9, 2.15, 2.4, 2.65, 2.9],
  [0.423, 1.45, 1.7, 1.95, 2.2, 2.45, 2.7],
  [0.401, 1.5, 1.75, 2.0, 2.25, 2.5],
  [0.379, 1.55, 1.8, 2.05, 2.3, 2.55],
  [0.357, 1.6, 1.85, 2.1, 2.35],
  [0.335, 1.7, 1.95, 2.2]
];
const spikeVsShatFill2 = [
  [0.588, 1.86, 1.98, 2.1, 2.22, 2.34, 2.46, 2.58, 2.7, 2.82],
  [0.566, 1.79, 1.92, 2.04, 2.16, 2.28, 2.4, 2.52, 2.64, 2.76, 2.88, 3.0],
  [0.544, 1.72, 1.85, 1.98, 2.1, 2.22, 2.34, 2.46, 2.58, 2.7, 2.82, 2.94, 3.06],
  [0.522, 1.65, 1.78, 1.91, 2.04, 2.16, 2.28, 2.4, 2.52, 2.64, 2.76, 2.88, 3.0],
  [0.500, 1.58, 1.72, 1.85, 1.98, 2.1, 2.22, 2.34, 2.46, 2.58, 2.7, 2.82, 2.95],
  [0.478, 1.52, 1.66, 1.8, 1.92, 2.04, 2.16, 2.28, 2.4, 2.52, 2.64, 2.76, 2.88],
  [0.456, 1.48, 1.62, 1.75, 1.87, 1.99, 2.11, 2.23, 2.35, 2.47, 2.59, 2.71, 2.84],
  [0.434, 1.5, 1.64, 1.77, 1.89, 2.01, 2.13, 2.25, 2.37, 2.49, 2.61, 2.74],
  [0.412, 1.54, 1.68, 1.8, 1.93, 2.05, 2.17, 2.29, 2.41, 2.53, 2.67],
  [0.390, 1.6, 1.74, 1.87, 1.99, 2.11, 2.23, 2.35, 2.48, 2.61],
  [0.368, 1.66, 1.8, 1.93, 2.05, 2.17, 2.3, 2.43],
  [0.346, 1.73, 1.87, 2.0, 2.13, 2.26, 2.4],
  [0.324, 1.8, 1.94, 2.07, 2.21]
];

// ---------- helpers ----------
const wrap = document.getElementById('wrap');
const M = 110, P = 371, X0 = 157, Y0 = 158, AXIS = 90, TICK = 20, LW = 2.7;
const FONT = '"Liberation Sans", Arial, Helvetica, sans-serif';
const LABEL_GAP = { top: 58, bottom: 60, left: 52, right: 59 };
Chart.defaults.font.family = FONT;
Chart.defaults.color = '#000';

const tickValues = [freeTicks, seedTicks, shatTicks, spikeTicks];
const tickLabels = [freeTickLabels, seedTickLabels, shatTickLabels, spikeTickLabels];
const axisSpec = {
  '0,1': { x: 'top' },
  '0,3': { x: 'top', y: 'right' },
  '1,0': { y: 'left' },
  '2,3': { y: 'right' },
  '3,0': { x: 'bottom', y: 'left' },
  '3,2': { x: 'bottom' }
};

const measureCtx = document.createElement('canvas').getContext('2d');
function textWidth(txt, size) {
  measureCtx.font = size + 'px ' + FONT;
  return measureCtx.measureText(txt).width;
}
// centre text on its ink box, like R does
function drawInk(ctx, txt, cx, cy, size, color) {
  ctx.font = size + 'px ' + FONT;
  ctx.fillStyle = color;
  ctx.textAlign = 'center';
  ctx.textBaseline = 'alphabetic';
  const m = ctx.measureText(txt);
  ctx.fillText(txt, cx, cy + (m.actualBoundingBoxAscent - m.actualBoundingBoxDescent) / 2);
}
const toXY = (xs, ys) => xs.map((x, i) => ({ x: x, y: ys[i] }));
function scatterPoints(pairs, ...rowSets) {
  const out = pairs.map(p => ({ x: p[0], y: p[1] }));
  rowSets.forEach(rows => rows.forEach(r => {
    for (let i = 1; i < r.length; i++) out.push({ x: r[i], y: r[0] });
  }));
  return out;
}

function makeScale(min, max, pos, varIdx, vertical) {
  const s = {
    type: 'linear', min: min, max: max, offset: false,
    display: !!pos, position: pos || (vertical ? 'left' : 'bottom'),
    grid: { display: !!pos, drawOnChartArea: false, drawTicks: true, tickLength: TICK, color: '#000', lineWidth: LW, offset: false },
    border: { display: false },
    ticks: { display: !!pos }
  };
  if (!pos) {
    s.afterBuildTicks = sc => { sc.ticks = [{ value: min }, { value: max }]; };
    return s;
  }
  const values = tickValues[varIdx], labels = tickLabels[varIdx];
  s.afterBuildTicks = sc => { sc.ticks = values.map(v => ({ value: v })); };
  s.afterFit = sc => { if (vertical) sc.width = AXIS; else sc.height = AXIS; };
  s.ticks = { display: true, autoSkip: false, color: '#000', font: { size: 32 }, callback: (v, i) => labels[i] };
  if (vertical) {
    const widest = Math.max(...labels.map(l => textWidth(l, 32)));
    s.ticks.minRotation = 90;
    s.ticks.maxRotation = 90;
    s.ticks.crossAlign = 'center';
    s.ticks.padding = LABEL_GAP[pos] - TICK - widest / 2;
  } else {
    s.ticks.minRotation = 0;
    s.ticks.maxRotation = 0;
    s.ticks.padding = LABEL_GAP[pos] - TICK - 32 * 1.2 / 2;
  }
  return s;
}

function decorPlugin(extra) {
  return {
    id: 'decor',
    afterDraw(chart) {
      const ctx = chart.ctx, a = chart.chartArea;
      const w = a.right - a.left, h = a.bottom - a.top;
      ctx.save();
      ctx.beginPath();
      ctx.rect(a.left, a.top, w, h);
      ctx.clip();
      if (extra.label) drawInk(ctx, extra.label, a.left + w / 2, a.top + 0.17 * h, 51.5, '#000');
      if (extra.corrText) {
        const base = 0.8 * w / (textWidth(extra.corrText, 100) / 100);
        drawInk(ctx, extra.corrText, a.left + 0.5 * w, a.top + 0.5 * h, base * (Math.abs(extra.r) + 0.3) / 1.3, '#000');
        drawInk(ctx, extra.stars, a.left + 0.8 * w, a.top + 0.2 * h, base, '#DF536B');
      }
      ctx.restore();
      ctx.save();
      ctx.lineWidth = LW;
      ctx.strokeStyle = '#000';
      ctx.strokeRect(a.left, a.top, w, h);
      ctx.restore();
    }
  };
}

function makePanel(r, c, datasets, xr, yr, extra) {
  const cv = document.createElement('canvas');
  cv.width = P + 2 * M;
  cv.height = P + 2 * M;
  cv.style.width = cv.width + 'px';
  cv.style.height = cv.height + 'px';
  cv.style.left = (X0 + c * P - M) + 'px';
  cv.style.top = (Y0 + r * P - M) + 'px';
  wrap.appendChild(cv);
  const spec = axisSpec[r + ',' + c] || {};
  const pad = { left: M, right: M, top: M, bottom: M };
  if (spec.x) pad[spec.x] = M - AXIS;
  if (spec.y) pad[spec.y] = M - AXIS;
  new Chart(cv, {
    type: 'scatter',
    data: { datasets: datasets },
    options: {
      responsive: false, animation: false, devicePixelRatio: 1, events: [],
      layout: { padding: pad, autoPadding: false },
      plugins: { legend: { display: false }, tooltip: { enabled: false } },
      scales: {
        x: makeScale(xr[0], xr[1], spec.x, c, false),
        y: makeScale(yr[0], yr[1], spec.y, r, true)
      }
    },
    plugins: [decorPlugin(extra || {})]
  });
}

// ---------- scatter panels (lower triangle) ----------
const scatterPanels = [
  { r: 1, c: 0, pts: scatterPoints(seedVsFree, seedVsFreeRows, seedVsFreeFill, seedVsFreeFill2), smooth: toXY(freeSeedSmoothX, freeSeedSmoothY) },
  { r: 2, c: 0, pts: scatterPoints(shatVsFree, shatVsFreeRows, shatVsFreeFill, shatVsFreeFill2), smooth: toXY(freeShatSmoothX, freeShatSmoothY) },
  { r: 2, c: 1, pts: scatterPoints(shatVsSeed, shatVsSeedRows, shatVsSeedFill, shatVsSeedFill2), smooth: toXY(seedShatSmoothX, seedShatSmoothY) },
  { r: 3, c: 0, pts: scatterPoints(spikeVsFree, spikeVsFreeRows, spikeVsFreeFill, spikeVsFreeFill2), smooth: toXY(freeSpikeSmoothX, freeSpikeSmoothY) },
  { r: 3, c: 1, pts: scatterPoints(spikeVsSeed, spikeVsSeedRows, spikeVsSeedFill, spikeVsSeedFill2), smooth: toXY(seedSpikeSmoothX, seedSpikeSmoothY) },
  { r: 3, c: 2, pts: scatterPoints(spikeVsShat, spikeVsShatRows, spikeVsShatFill, spikeVsShatFill2), smooth: toXY(shatSpikeSmoothX, shatSpikeSmoothY) }
];

// rug values for each variable, taken from the plotted points
const rugValues = [[], [], [], []];
scatterPanels.forEach(p => {
  p.pts.forEach(pt => { rugValues[p.c].push(pt.x); rugValues[p.r].push(pt.y); });
});

scatterPanels.forEach(p => {
  makePanel(p.r, p.c, [
    { type: 'line', data: p.smooth, showLine: true, borderColor: '#DF536B', borderWidth: 3.3, pointRadius: 0, fill: false, cubicInterpolationMode: 'monotone' },
    { type: 'scatter', data: p.pts, pointRadius: 6.5, pointBorderWidth: 3.2, pointBorderColor: '#000', pointBackgroundColor: 'rgba(0,0,0,0)', borderColor: '#000', backgroundColor: 'rgba(0,0,0,0)', clip: 0 }
  ], [axisMin[p.c], axisMax[p.c]], [axisMin[p.r], axisMax[p.r]]);
});

// ---------- histogram panels (diagonal) ----------
const hists = [
  { bins: freeBins, width: freeBinWidth, counts: freeCounts, dx: freeDensX, dy: freeDensY },
  { bins: seedBins, width: seedBinWidth, counts: seedCounts, dx: seedDensX, dy: seedDensY },
  { bins: shatBins, width: shatBinWidth, counts: shatCounts, dx: shatDensX, dy: shatDensY },
  { bins: spikeBins, width: spikeBinWidth, counts: spikeCounts, dx: spikeDensX, dy: spikeDensY }
];
hists.forEach((h, i) => {
  const lo = h.bins[0], hi = h.bins[h.bins.length - 1] + h.width;
  const xr = [lo - 0.04 * (hi - lo), hi + 0.04 * (hi - lo)];
  const top = Math.max(...h.counts);
  const yr = [-0.04 * top, 1.04 * top];
  const rugY = yr[0] + 0.015 * (yr[1] - yr[0]);
  const bars = h.bins.map((b, k) => ({ x: b + h.width / 2, y: h.counts[k] }));
  const rug = rugValues[i].map(v => ({ x: v, y: rugY }));
  makePanel(i, i, [
    { type: 'line', data: toXY(h.dx, h.dy), showLine: true, borderColor: '#FF0000', borderWidth: 2.7, pointRadius: 0, fill: false, cubicInterpolationMode: 'monotone' },
    { type: 'scatter', data: rug, pointStyle: 'line', pointRotation: 90, pointRadius: 5.6, pointBorderWidth: 1.3, pointBorderColor: '#000', borderColor: '#000', clip: 0 },
    { type: 'bar', data: bars, backgroundColor: '#C9C9C9', borderColor: '#000', borderWidth: 2.7, borderSkipped: false, inflateAmount: 1.35, barPercentage: 1, categoryPercentage: 1 }
  ], xr, yr, { label: varNames[i] });
});

// ---------- correlation panels (upper triangle) ----------
corrCells.forEach((cell, k) => {
  const r = cell[0], c = cell[1];
  makePanel(r, c, [], [axisMin[c], axisMax[c]], [axisMin[r], axisMax[r]],
    { corrText: corrLabels[k], r: corrValues[k], stars: corrStars[k] });
});
</script>
</body>
</html>
